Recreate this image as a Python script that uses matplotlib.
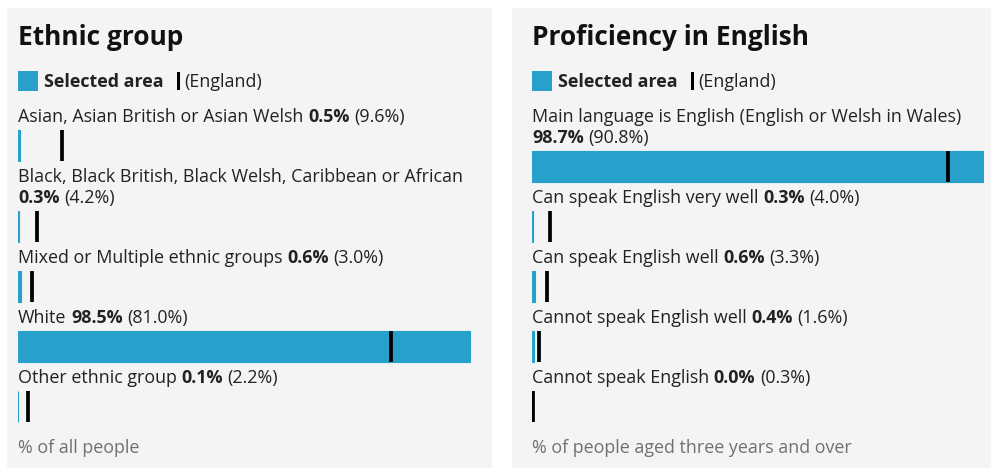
import matplotlib
matplotlib.use("Agg")
import matplotlib.pyplot as plt
from matplotlib.patches import Rectangle
from matplotlib.transforms import IdentityTransform

# Census 2021 profile - selected area vs England
ethnic_labels = [
    "Asian, Asian British or Asian Welsh",
    "Black, Black British, Black Welsh, Caribbean or African",
    "Mixed or Multiple ethnic groups",
    "White",
    "Other ethnic group",
]
ethnic_area = [0.5, 0.3, 0.6, 98.5, 0.1]
ethnic_england = [9.6, 4.2, 3.0, 81.0, 2.2]

english_labels = [
    "Main language is English (English or Welsh in Wales)",
    "Can speak English very well",
    "Can speak English well",
    "Cannot speak English well",
    "Cannot speak English",
]
english_area = [98.7, 0.3, 0.6, 0.4, 0.0]
english_england = [90.8, 4.0, 3.3, 1.6, 0.3]

W, H = 991, 468
BLUE = "#27a0cc"
BG = "#f4f4f4"
TXT = "#222222"
GREY = "#707070"
FS = 12.9
TITLE_FS = 18.9
BAR_H = 31

plt.rcParams["font.family"] = ["Open Sans", "DejaVu Sans"]

fig = plt.figure(figsize=(W / 100, H / 100), dpi=100, facecolor="white")
renderer = fig.canvas.get_renderer()
ident = IdentityTransform()


def text_w(s, size=FS, weight="normal"):
    t = fig.text(0, 0, s, fontsize=size, fontweight=weight)
    w = t.get_window_extent(renderer).width
    t.remove()
    return w


def write(x, y, s, size=FS, weight="normal", color=TXT):
    # x, y in pixels from top-left, y is the baseline
    fig.text(x, H - y, s, transform=ident, fontsize=size, fontweight=weight,
             color=color, va="baseline", ha="left")
    return x + text_w(s, size, weight)


SPACE = text_w("x x") - text_w("xx")


def panel(x0, x1, bx0, bx1, title, labels, area, england, footer):
    fig.add_artist(Rectangle((x0, 0), x1 - x0, H - 8, transform=ident,
                             facecolor=BG, edgecolor="none", zorder=-5))
    write(bx0, 45, title, size=TITLE_FS, weight="bold", color="#111111")

    # legend
    fig.add_artist(Rectangle((bx0, H - 91), 20, 20, transform=ident,
                             facecolor=BLUE, edgecolor="none"))
    end = write(bx0 + 26, 87, "Selected area", weight="bold")
    fig.add_artist(Rectangle((end + 13, H - 90), 3, 18, transform=ident,
                             facecolor="black", edgecolor="none"))
    write(end + 21, 87, "(England)")

    width = bx1 - bx0
    y = 122
    tops = []
    for lab, a, e in zip(labels, area, england):
        val = f"{a:.1f}%"
        ref = f"({e:.1f}%)"
        full = text_w(lab) + SPACE + text_w(val, weight="bold") + SPACE + text_w(ref)
        if full > width:
            write(bx0, y, lab)
            y += 21
            xe = write(bx0, y, val, weight="bold")
            write(xe + SPACE, y, ref)
        else:
            xe = write(bx0, y, lab)
            xe = write(xe + SPACE, y, val, weight="bold")
            write(xe + SPACE, y, ref)
        top = y + 7.5
        tops.append(top)
        y = top + BAR_H + 21.5

    ax = fig.add_axes([bx0 / W, 0, width / W, 1])
    ax.set_xlim(0, max(area))
    ax.set_ylim(H, 0)
    ax.axis("off")
    centers = [t + BAR_H / 2 for t in tops]
    edges = [BLUE if a > 0 else "none" for a in area]
    ax.barh(centers, area, height=BAR_H, color=BLUE, edgecolor=edges, linewidth=0.8)
    ax.vlines(england, tops, [t + BAR_H for t in tops], colors="black", lw=2.7)

    write(bx0, 453, footer, color=GREY)


panel(7, 492, 18, 471, "Ethnic group", ethnic_labels, ethnic_area,
      ethnic_england, "% of all people")
panel(512, 991, 532, 984, "Proficiency in English", english_labels, english_area,
      english_england, "% of people aged three years and over")

fig.savefig("out.png", dpi=100, facecolor="white")
